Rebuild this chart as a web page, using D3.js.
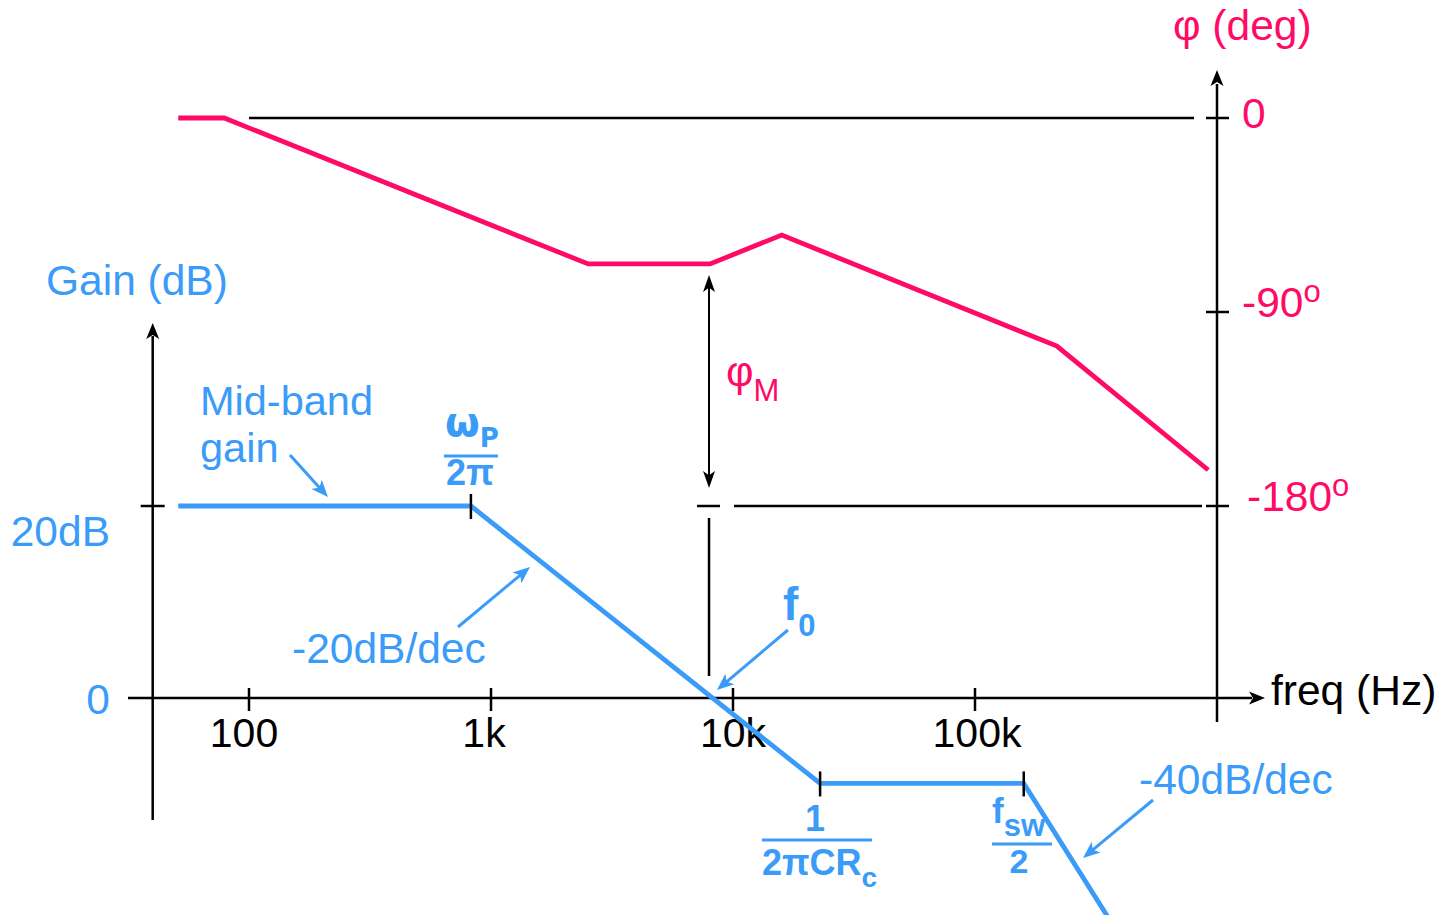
<!DOCTYPE html>
<html><head><meta charset="utf-8">
<script src="https://cdn.jsdelivr.net/npm/d3@7"></script>
<style>
html,body{margin:0;padding:0;background:#fff;}
svg{display:block;font-family:"Liberation Sans",Arial,sans-serif;}
</style></head><body>
<svg id="chart" width="1451" height="915"></svg>
<script>
// Frequency axis (Hz)
const freqTicks = [100, 1000, 10000, 100000];
const freqTickLabels = ["100", "1k", "10k", "100k"];

// Gain asymptote: corner frequencies (Hz) and gain (dB)
const gainFreq = [51, 826, 22900, 159000, 360000];
const gainDb = [20, 20, -8.9, -8.9, -23.1];
const gainTicks = [0, 20];
const gainTickLabels = ["0", "20dB"];

// Phase asymptote: frequencies (Hz) and phase (deg)
const phaseFreq = [51, 79, 2520, 8040, 15900, 218000, 920000];
const phaseDeg = [0, 0, -67.7, -67.7, -54.3, -105.8, -163.3];
const phaseTicks = [0, -90, -180];
const phaseTickLabels = ["0", "-90", "-180"];

// Marked corners on the gain curve
const cornerFreq = [826, 22900, 159000];
const crossoverFreq = 8260;   // gain = 0 dB
const marginFreq = 7960;      // where the phase margin is read

const PINK = "#ff0a66", BLUE = "#3a9cf8", INK = "#000";
const FS = 42.5;

const svg = d3.select("#chart");
const x = d3.scaleLog().domain([100, 100000]).range([249, 975]);
const yG = d3.scaleLinear().domain([0, 20]).range([698, 506]);
const yP = d3.scaleLinear().domain([0, -180]).range([118, 506]);

const xLeft = x(40), xRight = x(1e6);

function line(x1, y1, x2, y2, color, w) {
  svg.append("line").attr("x1", x1).attr("y1", y1).attr("x2", x2).attr("y2", y2)
    .attr("stroke", color).attr("stroke-width", w);
}
// filled arrow head with its tip at (x2,y2), pointing along (x1,y1)->(x2,y2)
function head(x1, y1, x2, y2, len, half, color) {
  const a = Math.atan2(y2 - y1, x2 - x1);
  const c = Math.cos(a), s = Math.sin(a);
  const bx = x2 - len * c, by = y2 - len * s;
  const nx = x2 - len * 0.75 * c, ny = y2 - len * 0.75 * s;
  const pts = [[x2, y2], [bx - half * s, by + half * c], [nx, ny], [bx + half * s, by - half * c]];
  svg.append("path").attr("d", "M" + pts.map(p => p.join(",")).join("L") + "Z").attr("fill", color);
}
function arrow(x1, y1, x2, y2, color, w, len, half) {
  const a = Math.atan2(y2 - y1, x2 - x1);
  line(x1, y1, x2 - (len * 0.7) * Math.cos(a), y2 - (len * 0.7) * Math.sin(a), color, w);
  head(x1, y1, x2, y2, len, half, color);
}
function text(str, tx, ty, size, color, opts = {}) {
  const t = svg.append("text").attr("x", tx).attr("y", ty).attr("font-size", size)
    .attr("fill", color).attr("text-anchor", opts.anchor || "start")
    .attr("font-weight", opts.bold ? "bold" : "normal");
  if (opts.family) t.attr("font-family", opts.family);
  t.text(str);
  return t;
}
function sub(t, str, size, dy) {
  t.append("tspan").attr("font-size", size).attr("dy", dy).text(str);
}

// ---------- reference lines of the phase plot ----------
line(x(100), yP(0), xRight - 23, yP(0), INK, 2.5);
line(x(marginFreq) - 12, yP(-180), x(marginFreq) + 11, yP(-180), INK, 2.5);
line(x(marginFreq) + 25, yP(-180), xRight - 15, yP(-180), INK, 2.5);

// ---------- axes ----------
// frequency axis
line(128, yG(0), 1252, yG(0), INK, 2.5);
head(1200, yG(0), 1265, yG(0), 16, 6.5, INK);
freqTicks.forEach(f => line(x(f), yG(0) - 10, x(f), yG(0) + 13, INK, 2.5));
const tickShift = [-5, -7, 0, 2];
freqTicks.forEach((f, i) => text(freqTickLabels[i], x(f) + tickShift[i], 747, 41, INK, { anchor: "middle" }));
text("freq (Hz)", 1271, 705, FS, INK);

// gain axis
line(xLeft, 336, xLeft, 820, INK, 2.5);
head(xLeft, 400, xLeft, 323, 16, 6.5, INK);
gainTicks.forEach(g => { if (g !== 0) line(xLeft - 12, yG(g), xLeft + 12, yG(g), INK, 2.5); });
gainTicks.forEach((g, i) => text(gainTickLabels[i], 110, yG(g) + (g === 0 ? 16 : 40), FS, BLUE, { anchor: "end" }));
text("Gain (dB)", 46, 295, FS, BLUE);

// phase axis
line(xRight, 84, xRight, 722, INK, 2.5);
head(xRight, 200, xRight, 70, 16, 6.5, INK);
phaseTicks.forEach(p => line(xRight - 11, yP(p), xRight + 12, yP(p), INK, 2.5));
phaseTicks.forEach((p, i) => {
  const t = text(phaseTickLabels[i], p === -180 ? 1247 : 1242, yP(p) + (p === 0 ? 10 : 5), FS, PINK);
  if (p !== 0) { t.append("tspan").attr("font-size", 31).attr("dy", -15).text("o"); }
});
text("φ (deg)", 1173, 40, FS, PINK);

// ---------- phase curve ----------
const phaseLine = d3.line().x(d => x(d[0])).y(d => yP(d[1]));
svg.append("path").datum(d3.zip(phaseFreq, phaseDeg)).attr("d", phaseLine)
  .attr("fill", "none").attr("stroke", PINK).attr("stroke-width", 4.8)
  .attr("stroke-linejoin", "miter");

// ---------- gain curve ----------
const gainLine = d3.line().x(d => x(d[0])).y(d => yG(d[1]));
svg.append("path").datum(d3.zip(gainFreq, gainDb)).attr("d", gainLine)
  .attr("fill", "none").attr("stroke", BLUE).attr("stroke-width", 4.8)
  .attr("stroke-linejoin", "miter");

// corner marks
cornerFreq.forEach(f => {
  const i = gainFreq.indexOf(f);
  line(x(f), yG(gainDb[i]) - 12, x(f), yG(gainDb[i]) + 13, INK, 2.5);
});

// ---------- phase margin ----------
const xm = x(marginFreq);
const pm = phaseDeg[phaseFreq.indexOf(8040)];
line(xm, yP(pm) + 20, xm, yP(-180) - 26, INK, 2);
head(xm, yP(pm) + 60, xm, yP(pm) + 11, 17, 6, INK);
head(xm, yP(-180) - 60, xm, yP(-180) - 18, 17, 6, INK);
line(xm, yP(-180) + 12, xm, yG(0) - 22, INK, 2.5);
const pmLabel = text("φ", 726, 386, FS, PINK);
sub(pmLabel, "M", 31, 15);

// ---------- annotations ----------
text("Mid-band", 200, 415, 41.5, BLUE);
text("gain", 200, 462, 41.5, BLUE);
arrow(x(212) - 38, yG(20) - 51, x(212), yG(20) - 9, BLUE, 3, 17, 7);

arrow(458, 627, 530, 567, BLUE, 3, 17, 7);
text("-20dB/dec", 292, 663, FS, BLUE);

arrow(1153, 800, 1083, 858, BLUE, 3, 17, 7);
text("-40dB/dec", 1139, 794, FS, BLUE);

// crossover label f0
const xc = x(crossoverFreq);
arrow(xc + 75, 630, xc + 4, 690, BLUE, 3, 17, 7);
const f0 = text("f", 783, 620, 46, BLUE, { bold: true });
sub(f0, "0", 31, 16);

// ωP / 2π
const xp = x(cornerFreq[0]);
const wp = text("ω", xp - 26, 436, 40, BLUE, { bold: true, family: "DejaVu Sans" });
sub(wp, "P", 26, 11);
line(xp - 27, 456, xp + 27, 456, BLUE, 3);
text("2π", xp - 1, 485, 36, BLUE, { bold: true, anchor: "middle", family: "Liberation Sans" });

// 1 / 2πCRc
const xz = x(cornerFreq[1]);
text("1", xz - 5, 831, 36, BLUE, { bold: true, anchor: "middle" });
line(762, 840, 872, 840, BLUE, 3);
const rc = text("2πCR", 762, 875, 36, BLUE, { bold: true });
sub(rc, "c", 28, 12);

// fsw / 2
const xs = x(cornerFreq[2]);
const fsw = text("f", 992, 823, 35, BLUE, { bold: true });
sub(fsw, "sw", 31, 13);
line(992, 844, 1052, 844, BLUE, 3);
text("2", 1019, 873, 34, BLUE, { bold: true, anchor: "middle" });
</script>
</body></html>
